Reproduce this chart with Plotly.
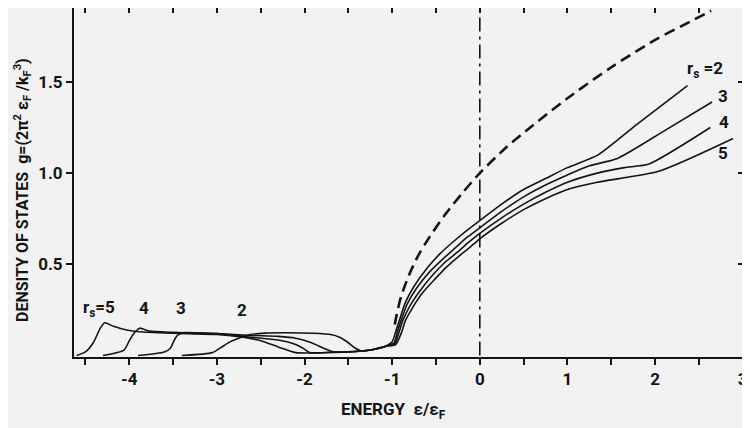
import plotly.graph_objects as go

# ---- data ----
free_x = [-0.97, -0.95, -0.9, -0.8, -0.7, -0.6, -0.4, -0.2, 0.0, 0.3, 0.6, 1.0, 1.5, 2.0, 2.4, 2.64]
free_y = [0.17, 0.22, 0.32, 0.45, 0.55, 0.63, 0.77, 0.89, 1.00, 1.14, 1.26, 1.41, 1.58, 1.73, 1.83, 1.89]

rs2_x = [-3.40, -3.05, -2.95, -2.85, -2.75, -2.62, -2.45, -2.2, -1.9, -1.7, -1.6, -1.5, -1.42, -1.35,
         -1.2, -1.08, -1.0, -0.96, -0.92, -0.85, -0.75, -0.6, -0.45, -0.3, -0.15, 0.0, 0.25, 0.5, 0.75,
         1.0, 1.35, 1.8, 2.37]
rs2_y = [0.0, 0.016, 0.045, 0.075, 0.095, 0.115, 0.123, 0.125, 0.122, 0.115, 0.10, 0.07, 0.04, 0.025,
         0.035, 0.05, 0.075, 0.13, 0.19, 0.29, 0.38, 0.48, 0.56, 0.625, 0.685, 0.74, 0.83, 0.91, 0.97,
         1.03, 1.10, 1.27, 1.48]

rs3_x = [-3.90, -3.6, -3.53, -3.49, -3.45, -3.38, -3.2, -3.0, -2.6, -2.3, -2.1, -1.92, -1.78, -1.67,
         -1.5, -1.35, -1.2, -1.08, -0.98, -0.94, -0.9, -0.83, -0.72, -0.57, -0.42, -0.28, -0.14, 0.0,
         0.25, 0.5, 0.75, 1.0, 1.25, 1.57, 2.1, 2.65]
rs3_y = [0.0, 0.02, 0.04, 0.08, 0.11, 0.125, 0.124, 0.12, 0.11, 0.105, 0.095, 0.07, 0.04, 0.02,
         0.02, 0.025, 0.035, 0.05, 0.068, 0.13, 0.19, 0.28, 0.37, 0.46, 0.53, 0.59, 0.65, 0.70,
         0.79, 0.87, 0.935, 0.99, 1.04, 1.08, 1.23, 1.39]

rs4_x = [-4.30, -4.06, -4.0, -3.95, -3.88, -3.77, -3.5, -3.0, -2.6, -2.3, -2.1, -2.0, -1.94, -1.7,
         -1.35, -1.2, -1.08, -0.97, -0.92, -0.88, -0.8, -0.69, -0.54, -0.4, -0.26, -0.13, 0.0,
         0.25, 0.5, 0.75, 1.0, 1.34, 1.65, 1.93, 2.63]
rs4_y = [0.0, 0.03, 0.08, 0.12, 0.15, 0.134, 0.127, 0.12, 0.10, 0.085, 0.06, 0.035, 0.016, 0.018,
         0.025, 0.035, 0.05, 0.065, 0.13, 0.19, 0.27, 0.35, 0.44, 0.51, 0.565, 0.62, 0.67,
         0.755, 0.83, 0.895, 0.95, 1.00, 1.03, 1.05, 1.25]

rs5_x = [-4.60, -4.5, -4.41, -4.33, -4.28, -4.18, -4.03, -3.88, -3.5, -3.0, -2.7, -2.49, -2.3, -2.1,
         -1.8, -1.5, -1.35, -1.2, -1.08, -0.96, -0.89, -0.85, -0.77, -0.66, -0.51, -0.38, -0.25, -0.12,
         0.0, 0.25, 0.5, 0.75, 1.0, 1.34, 2.04, 2.89]
rs5_y = [0.0, 0.02, 0.07, 0.15, 0.18, 0.16, 0.14, 0.13, 0.122, 0.115, 0.10, 0.08, 0.047, 0.016,
         0.015, 0.02, 0.025, 0.035, 0.05, 0.06, 0.13, 0.19, 0.26, 0.34, 0.42, 0.485, 0.54, 0.59,
         0.64, 0.725, 0.80, 0.86, 0.91, 0.95, 1.01, 1.19]

fermi_x = [0.0, 0.0]
fermi_y = [0.0, 1.905]

x_major_vals = [-4, -3, -2, -1, 0, 1, 2, 3]
x_major_text = ["-4", "-3", "-2", "-1", "0", "1", "2", "3"]
x_all_ticks = [-4.5, -4, -3.5, -3, -2.5, -2, -1.5, -1, -0.5, 0, 0.5, 1, 1.5, 2, 2.5, 3]
y_tickvals = [0.5, 1.0, 1.5]
y_ticktext = ["0.5", "1.0", "1.5"]

XR = [-4.63, 3.003]
YR = [-0.008, 1.905]
INK = "#141414"
BG = "#f2f2f2"
FONT = "Roboto"

fig = go.Figure()

for xs, ys in [(rs2_x, rs2_y), (rs3_x, rs3_y), (rs4_x, rs4_y), (rs5_x, rs5_y)]:
    fig.add_trace(go.Scatter(x=xs, y=ys, mode="lines",
                             line=dict(color=INK, width=1.6, shape="spline", smoothing=0.6),
                             showlegend=False, hoverinfo="skip"))

fig.add_trace(go.Scatter(x=free_x, y=free_y, mode="lines",
                         line=dict(color=INK, width=2.6, dash="11px,6px", shape="spline", smoothing=0.8),
                         showlegend=False, hoverinfo="skip"))

fig.add_trace(go.Scatter(x=fermi_x, y=fermi_y, mode="lines",
                         line=dict(color=INK, width=1.6, dash="14px,5px,3px,5px"),
                         showlegend=False, hoverinfo="skip"))

# invisible trace for the mirrored (inside-tick) axes
fig.add_trace(go.Scatter(x=[None], y=[None], xaxis="x2", yaxis="y2", showlegend=False, hoverinfo="skip"))

tickfont = dict(family=FONT, size=17, color=INK, weight="bold")

# the page body has an 8px margin, so the figure sits 8px right/down;
# size and margins are chosen so the plot frame lands on the reference frame
fig.update_layout(
    width=742, height=420,
    margin=dict(l=66, r=7, t=0, b=71, autoexpand=False),
    paper_bgcolor=BG, plot_bgcolor=BG,
    xaxis=dict(range=XR, tickvals=x_major_vals, ticktext=x_major_text, ticks="outside", ticklen=6,
               tickwidth=2, tickcolor=INK, showline=True, linewidth=2, linecolor=INK, mirror=True,
               showgrid=False, zeroline=False, tickfont=tickfont, automargin=False,
               ticklabeloverflow="allow",
               minor=dict(tick0=0, dtick=0.5, ticks="outside", ticklen=6, tickwidth=2, tickcolor=INK,
                          showgrid=False)),
    yaxis=dict(range=YR, tickvals=y_tickvals, ticktext=y_ticktext, ticks="outside", ticklen=6,
               tickwidth=2, tickcolor=INK, showline=True, linewidth=2, linecolor=INK, mirror=True,
               showgrid=False, zeroline=False, tickfont=tickfont, automargin=False),
    xaxis2=dict(range=XR, overlaying="x", side="top", tickvals=x_all_ticks, ticks="inside", ticklen=5,
                tickwidth=2, tickcolor=INK, showticklabels=False, showline=False, showgrid=False,
                zeroline=False, automargin=False),
    yaxis2=dict(range=YR, overlaying="y", side="right", tickvals=y_tickvals, ticks="inside", ticklen=5,
                tickwidth=2, tickcolor=INK, showticklabels=False, showline=False, showgrid=False,
                zeroline=False, automargin=False),
)

lab = dict(family=FONT, size=17, color=INK, weight="bold")
annots = [
    dict(x=-4.35, y=0.26, text="r<sub>s</sub>=5"),
    dict(x=-3.83, y=0.26, text="4"),
    dict(x=-3.41, y=0.26, text="3"),
    dict(x=-2.71, y=0.25, text="2"),
    dict(x=2.57, y=1.57, text="r<sub>s</sub> =2"),
    dict(x=2.77, y=1.42, text="3"),
    dict(x=2.79, y=1.28, text="4"),
    dict(x=2.77, y=1.11, text="5"),
]
for a in annots:
    fig.add_annotation(xref="x", yref="y", showarrow=False, font=lab, **a)

fig.add_annotation(xref="paper", yref="paper", x=0.477, y=-0.152, showarrow=False,
                   text="ENERGY  ε/ε<sub>F</sub>", font=lab, xanchor="center", yanchor="middle")
fig.add_annotation(xref="paper", yref="paper", x=-0.076, y=0.479, showarrow=False, textangle=-90,
                   text="DENSITY OF STATES  g=(2π<sup>2</sup> ε<sub>F</sub> /k<sub>F</sub><sup>3</sup>)",
                   font=dict(family=FONT, size=16, color=INK, weight="bold"),
                   xanchor="center", yanchor="middle")

fig.write_html("out.html")
